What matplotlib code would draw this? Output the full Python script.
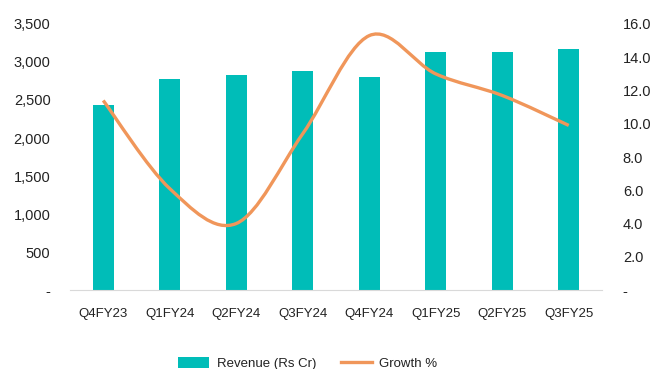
"""Quarterly revenue bars with smoothed growth line on a twin axis."""

import matplotlib
matplotlib.use("Agg")
import matplotlib.pyplot as plt
from matplotlib.path import Path
from matplotlib.patches import PathPatch
from matplotlib.lines import Line2D
from matplotlib.patches import Patch
from matplotlib.ticker import FuncFormatter
import numpy as np

quarters = ["Q4FY23", "Q1FY24", "Q2FY24", "Q3FY24", "Q4FY24", "Q1FY25", "Q2FY25", "Q3FY25"]
revenue = [2434, 2772, 2825, 2886, 2803, 3132, 3132, 3167]
growth = [11.4, 6.1, 4.0, 9.4, 15.3, 13.0, 11.7, 9.9]

BAR_COLOR = "#00BDB8"
LINE_COLOR = "#F0965A"
plt.rcParams["font.family"] = ["Liberation Sans", "DejaVu Sans"]
plt.rcParams["font.size"] = 9.5
plt.rcParams["text.color"] = "#222222"


def smooth_path(xs, ys, tension=1 / 6):
    # Excel-style smoothed line: cubic Bezier segments with Catmull-Rom handles
    pts = np.column_stack([xs, ys]).astype(float)
    verts = [pts[0]]
    codes = [Path.MOVETO]
    n = len(pts)
    for i in range(n - 1):
        p0 = pts[i - 1] if i > 0 else pts[i]
        p1, p2 = pts[i], pts[i + 1]
        p3 = pts[i + 2] if i + 2 < n else pts[i + 1]
        c1 = p1 + (p2 - p0) * tension
        c2 = p2 - (p3 - p1) * tension
        verts += [c1, c2, p2]
        codes += [Path.CURVE4] * 3
    return Path(verts, codes)


def dash_zero(fmt):
    return FuncFormatter(lambda v, _: "-" if abs(v) < 1e-9 else fmt.format(v))


fig = plt.figure(figsize=(6.54, 3.69), dpi=100)
ax = fig.add_axes([0.107, 0.214, 0.8135, 0.721])
x = np.arange(len(quarters))
ax.bar(x, revenue, width=0.32, color=BAR_COLOR, zorder=2)
ax.set_xlim(-0.5, len(quarters) - 0.5)
ax.set_ylim(0, 3500)
ax.set_yticks(np.arange(0, 3501, 500))
ax.yaxis.set_major_formatter(dash_zero("{:,.0f}"))
ax.set_xticks(x)
ax.set_xticklabels(quarters)
ax.tick_params(axis="x", length=0, pad=13, labelcolor="#222222", labelsize=9.5)
ax.tick_params(axis="y", length=0, pad=14, labelcolor="#222222", labelsize=10.5)
for side in ("top", "right", "left"):
    ax.spines[side].set_visible(False)
ax.spines["bottom"].set_color("#D9D9D9")

ax2 = ax.twinx()
ax2.set_ylim(0, 16)
ax2.set_yticks(np.arange(0, 16.1, 2))
ax2.yaxis.set_major_formatter(dash_zero("{:.1f}"))
ax2.tick_params(axis="y", length=0, pad=15, labelcolor="#222222", labelsize=10.5)
for side in ("top", "right", "left", "bottom"):
    ax2.spines[side].set_visible(False)
ax2.add_patch(PathPatch(smooth_path(x, growth), facecolor="none",
                        edgecolor=LINE_COLOR, lw=2.4, capstyle="butt", zorder=3))

handles = [Patch(facecolor=BAR_COLOR, label="Revenue (Rs Cr)"),
           Line2D([0], [0], color=LINE_COLOR, lw=2.4, label="Growth %")]
fig.legend(handles=handles, loc="center", bbox_to_anchor=(0.471, 0.014), ncol=2,
           frameon=False, handlelength=2.3, handleheight=0.9, handletextpad=0.6,
           columnspacing=1.9, fontsize=9.5)

fig.savefig("out.png", dpi=100)
